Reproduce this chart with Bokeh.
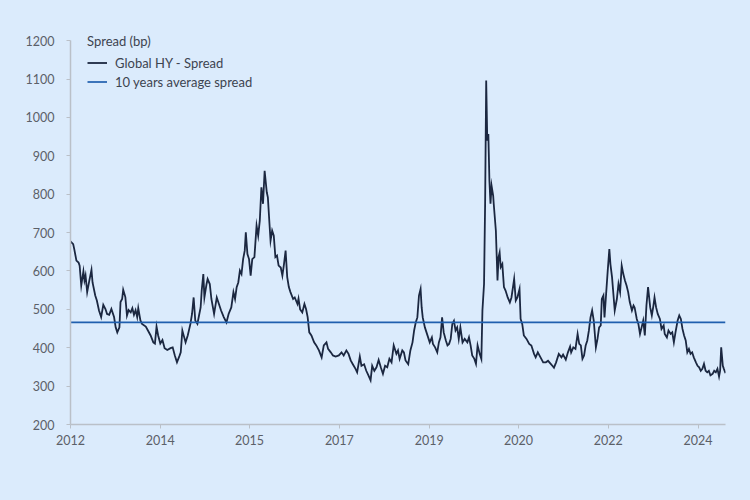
from bokeh.plotting import figure
from bokeh.models import Range1d, FixedTicker, Legend, LegendItem
from bokeh.embed import file_html
from bokeh.resources import INLINE

# Decimal-year dates and Global HY spread (bp)
years = [
    2012.50, 2012.55, 2012.57, 2012.61, 2012.65, 2012.67, 2012.70, 2012.74, 2012.76, 2012.78,
    2012.81, 2012.85, 2012.89, 2012.91, 2012.96, 2012.99, 2013.03, 2013.07, 2013.11, 2013.15,
    2013.18, 2013.22, 2013.26, 2013.31, 2013.34, 2013.37, 2013.41, 2013.43, 2013.46, 2013.48,
    2013.52, 2013.55, 2013.58, 2013.62, 2013.65, 2013.68, 2013.71, 2013.74, 2013.76, 2013.80,
    2013.83, 2013.90, 2013.94, 2013.99, 2014.04, 2014.07, 2014.10, 2014.13, 2014.17, 2014.21,
    2014.25, 2014.30, 2014.36, 2014.40, 2014.44, 2014.48, 2014.53, 2014.55, 2014.58, 2014.64,
    2014.68, 2014.73, 2014.76, 2014.79, 2014.82, 2014.86, 2014.89, 2014.92, 2014.94, 2014.97,
    2014.99, 2015.03, 2015.05, 2015.09, 2015.12, 2015.17, 2015.22, 2015.26, 2015.30, 2015.35,
    2015.40, 2015.44, 2015.49, 2015.53, 2015.56, 2015.59, 2015.62, 2015.65, 2015.68, 2015.71,
    2015.74, 2015.76, 2015.79, 2015.82, 2015.85, 2015.88, 2015.92, 2015.96, 2015.99, 2016.02,
    2016.05, 2016.08, 2016.11, 2016.15, 2016.17, 2016.20, 2016.22, 2016.25, 2016.28, 2016.31,
    2016.34, 2016.37, 2016.41, 2016.44, 2016.47, 2016.50, 2016.53, 2016.56, 2016.59, 2016.64,
    2016.67, 2016.72, 2016.74, 2016.77, 2016.81, 2016.85, 2016.88, 2016.91, 2016.94, 2016.98,
    2017.03, 2017.07, 2017.12, 2017.17, 2017.21, 2017.26, 2017.29, 2017.34, 2017.38, 2017.43,
    2017.49, 2017.54, 2017.58, 2017.63, 2017.67, 2017.71, 2017.75, 2017.80, 2017.83, 2017.88,
    2017.91, 2017.96, 2018.00, 2018.04, 2018.08, 2018.11, 2018.15, 2018.19, 2018.23, 2018.27,
    2018.31, 2018.35, 2018.39, 2018.43, 2018.47, 2018.51, 2018.56, 2018.59, 2018.62, 2018.67,
    2018.70, 2018.73, 2018.78, 2018.82, 2018.86, 2018.89, 2018.92, 2018.95, 2018.98, 2019.01,
    2019.03, 2019.05, 2019.09, 2019.12, 2019.15, 2019.18, 2019.22, 2019.24, 2019.28, 2019.32,
    2019.35, 2019.38, 2019.41, 2019.44, 2019.48, 2019.51, 2019.54, 2019.57, 2019.60, 2019.63,
    2019.66, 2019.69, 2019.72, 2019.75, 2019.79, 2019.83, 2019.88, 2019.91, 2019.94, 2019.97,
    2020.01, 2020.04, 2020.07, 2020.11, 2020.14, 2020.16, 2020.19, 2020.21, 2020.23, 2020.25,
    2020.27, 2020.29, 2020.31, 2020.33, 2020.36, 2020.37, 2020.41, 2020.44, 2020.46, 2020.48,
    2020.50, 2020.53, 2020.56, 2020.59, 2020.63, 2020.67, 2020.70, 2020.75, 2020.78, 2020.81,
    2020.85, 2020.87, 2020.90, 2020.93, 2020.98, 2021.03, 2021.07, 2021.12, 2021.15, 2021.19,
    2021.24, 2021.29, 2021.34, 2021.38, 2021.43, 2021.46, 2021.49, 2021.53, 2021.58, 2021.63,
    2021.66, 2021.71, 2021.75, 2021.79, 2021.81, 2021.85, 2021.89, 2021.93, 2021.96, 2021.99,
    2022.02, 2022.05, 2022.08, 2022.11, 2022.14, 2022.17, 2022.20, 2022.23, 2022.27, 2022.30,
    2022.33, 2022.36, 2022.38, 2022.41, 2022.43, 2022.46, 2022.49, 2022.52, 2022.54, 2022.57,
    2022.59, 2022.62, 2022.66, 2022.69, 2022.72, 2022.75, 2022.78, 2022.81, 2022.84, 2022.87,
    2022.90, 2022.94, 2022.97, 2022.99, 2023.03, 2023.06, 2023.09, 2023.12, 2023.15, 2023.18,
    2023.21, 2023.24, 2023.28, 2023.31, 2023.34, 2023.36, 2023.39, 2023.42, 2023.46, 2023.49,
    2023.53, 2023.55, 2023.59, 2023.62, 2023.66, 2023.69, 2023.72, 2023.75, 2023.79, 2023.82,
    2023.85, 2023.88, 2023.91, 2023.94, 2023.97, 2024.00, 2024.03, 2024.06, 2024.09, 2024.13,
    2024.16, 2024.19, 2024.22, 2024.25, 2024.28, 2024.31, 2024.34, 2024.37, 2024.40, 2024.44,
    2024.47, 2024.50, 2024.53, 2024.56, 2024.58, 2024.60, 2024.63, 2024.65, 2024.68,
]
spread = [
    677, 670, 657, 627, 622, 614, 562, 599, 575, 588,
    545, 575, 603, 570, 536, 523, 497, 480, 512, 501,
    488, 486, 501, 480, 453, 440, 453, 519, 527, 551,
    532, 484, 498, 492, 503, 486, 498, 480, 503, 471,
    462, 455, 445, 432, 414, 411, 455, 432, 411, 420,
    399, 394, 399, 401, 380, 362, 380, 388, 445, 414,
    432, 462, 488, 531, 471, 462, 484, 505, 549, 592,
    531, 566, 579, 566, 527, 488, 531, 514, 497, 480,
    466, 488, 505, 545, 527, 558, 570, 601, 592, 631,
    653, 701, 644, 631, 588, 631, 636, 718, 692, 731,
    818, 775, 861, 805, 792, 723, 679, 705, 692, 636,
    640, 614, 609, 588, 618, 653, 584, 558, 545, 527,
    531, 514, 528, 500, 492, 514, 501, 480, 440, 432,
    414, 406, 393, 375, 406, 414, 397, 388, 380, 377,
    380, 388, 380, 393, 384, 367, 357, 345, 336, 377,
    353, 357, 340, 328, 315, 353, 340, 349, 368, 349,
    332, 353, 349, 371, 362, 406, 384, 393, 371, 393,
    388, 367, 357, 393, 414, 445, 466, 479, 536, 553,
    505, 479, 453, 440, 427, 414, 427, 410, 401, 388,
    414, 427, 479, 440, 419, 406, 410, 423, 462, 470,
    445, 453, 423, 453, 414, 423, 414, 427, 406, 380,
    371, 358, 406, 384, 371, 497, 566, 775, 1096, 940,
    957, 835, 775, 822, 796, 775, 705, 575, 636, 648,
    610, 618, 558, 549, 531, 518, 531, 579, 523, 531,
    553, 475, 462, 432, 423, 410, 406, 384, 375, 388,
    375, 362, 362, 366, 358, 353, 348, 362, 384, 375,
    382, 369, 388, 403, 388, 401, 397, 436, 410, 406,
    371, 380, 406, 419, 445, 479, 497, 471, 401, 423,
    453, 458, 527, 536, 479, 540, 601, 657, 618, 584,
    549, 497, 527, 566, 545, 614, 592, 575, 562, 545,
    519, 497, 510, 505, 475, 462, 436, 453, 471, 432,
    510, 558, 505, 484, 510, 531, 505, 488, 475, 449,
    458, 436, 427, 445, 436, 440, 414, 440, 471, 484,
    475, 449, 432, 419, 388, 397, 384, 388, 375, 362,
    353, 349, 340, 345, 358, 340, 336, 340, 328, 332,
    340, 336, 345, 325, 340, 401, 353, 345, 334,
]
avg_spread = 466

x_ticks = [2012.50, 2014.17, 2015.83, 2017.50, 2019.17, 2020.83, 2022.50, 2024.17]
x_tick_labels = ["2012", "2014", "2015", "2017", "2019", "2020", "2022", "2024"]
y_ticks = [200, 300, 400, 500, 600, 700, 800, 900, 1000, 1100, 1200]
y_top = 1250  # headroom above the last tick for the legend title

BG = "#dbebfc"
FONT = "Lato"

p = figure(width=750, height=500, output_backend="svg", toolbar_location=None,
           x_range=Range1d(years[0], years[-1]), y_range=Range1d(y_ticks[0], y_top),
           min_border_left=70, min_border_right=25, min_border_top=21, min_border_bottom=76,
           background_fill_color=BG, border_fill_color=BG)
p.outline_line_color = None
p.xgrid.visible = False
p.ygrid.visible = False

r_hy = p.line(years, spread, line_color="#1b2740", line_width=1.8, line_join="miter")
r_avg = p.line([years[0], years[-1]], [avg_spread, avg_spread], line_color="#1f5fae", line_width=1.7)

for ax in (p.xaxis[0], p.yaxis[0]):
    ax.axis_line_color = "#bac0c8"
    ax.axis_line_width = 1.5
    ax.major_tick_line_color = "#bac0c8"
    ax.major_tick_in = 0
    ax.major_tick_out = 4
    ax.minor_tick_line_color = None
    ax.major_label_text_font = FONT
    ax.major_label_text_font_size = "12.5px"
    ax.major_label_text_color = "#5b6068"

p.xaxis.ticker = FixedTicker(ticks=x_ticks)
p.xaxis.major_label_overrides = dict(zip(x_ticks, x_tick_labels))
p.xaxis.major_label_standoff = 6
p.yaxis.ticker = FixedTicker(ticks=y_ticks)
p.yaxis.bounds = (y_ticks[0], y_ticks[-1])
p.yaxis.major_label_standoff = 12

legend = Legend(
    items=[LegendItem(label="Global HY - Spread", renderers=[r_hy]),
           LegendItem(label="10 years average spread", renderers=[r_avg])],
    title="Spread (bp)", location=(17, 333),
    padding=0, spacing=0, margin=0,
    glyph_width=20, glyph_height=19, label_height=19, label_standoff=8, title_standoff=4,
    label_text_font=FONT, label_text_font_size="13px", label_text_color="#3d4450",
    title_text_font=FONT, title_text_font_size="13px", title_text_font_style="normal",
    title_text_color="#3d4450",
    background_fill_alpha=0, border_line_alpha=0,
)
p.add_layout(legend)

html = file_html(p, INLINE)
html = html.replace("</head>", "<style>html,body{background:%s;margin:0;}</style></head>" % BG, 1)
open("out.html", "w").write(html)
